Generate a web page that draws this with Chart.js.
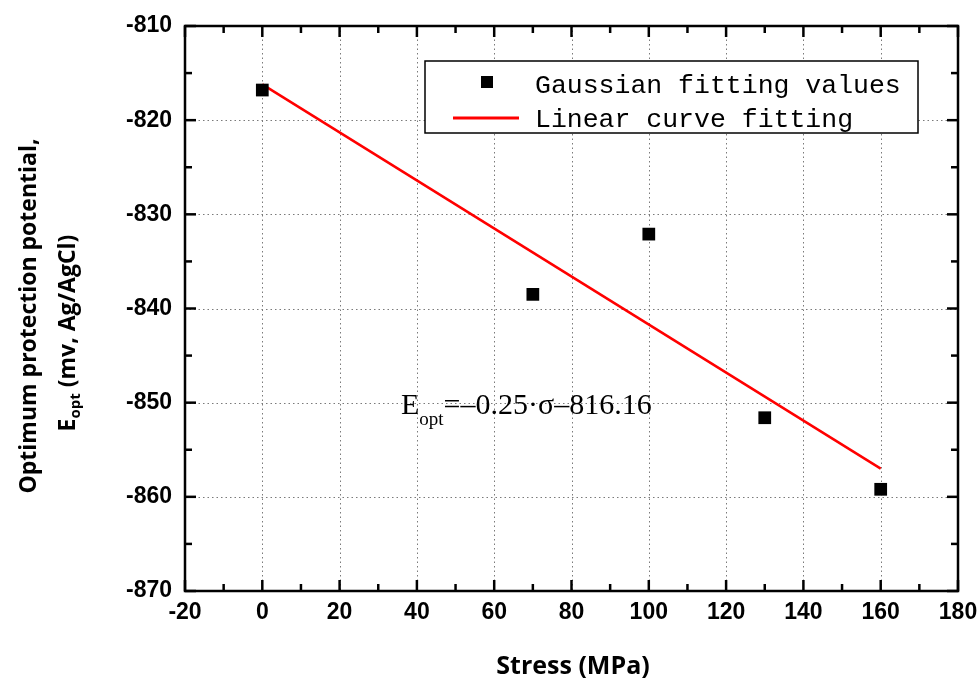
<!DOCTYPE html>
<html><head><meta charset="utf-8">
<script src="https://cdn.jsdelivr.net/npm/chart.js@4/dist/chart.umd.min.js"></script>
<style>html,body{margin:0;padding:0;background:#fff}#wrap{width:980px;height:680px}</style>
</head><body><div id="wrap"><canvas id="c" width="980" height="680"></canvas></div>
<script>
const stress = [0, 70, 100, 130, 160];
const gaussianValues = [-816.8, -838.5, -832.1, -851.6, -859.2];
const fitStress = [0, 160];
const fitValues = [-816.2, -857.0];
const xTicks = [-20, 0, 20, 40, 60, 80, 100, 120, 140, 160, 180];
const yTicks = [-810, -820, -830, -840, -850, -860, -870];
const seriesLabels = ['Gaussian fitting values', 'Linear curve fitting'];
const xTitle = 'Stress (MPa)';
const yTitleLine1 = 'Optimum protection potential,';
const yTitleLine2Main = 'E';
const yTitleLine2Sub = 'opt';
const yTitleLine2Rest = ' (mv, Ag/AgCl)';
const eqMain = 'E';
const eqSub = 'opt';
const eqRest = '=\u20130.25\u00b7\u03c3\u2013816.16';

const overlay = {
  id: 'overlay',
  beforeDatasetsDraw(chart) {
    const {ctx, chartArea: a, scales: {x, y}} = chart;
    ctx.save();
    ctx.strokeStyle = '#7a7a7a';
    ctx.lineWidth = 1;
    ctx.setLineDash([1.5, 3]);
    xTicks.slice(1, -1).forEach(v => {
      const px = Math.round(x.getPixelForValue(v)) + 0.5;
      ctx.beginPath(); ctx.moveTo(px, a.top); ctx.lineTo(px, a.bottom); ctx.stroke();
    });
    yTicks.slice(1, -1).forEach(v => {
      const py = Math.round(y.getPixelForValue(v)) + 0.5;
      ctx.beginPath(); ctx.moveTo(a.left, py); ctx.lineTo(a.right, py); ctx.stroke();
    });
    ctx.restore();
  },
  afterDatasetsDraw(chart) {
    const {ctx, chartArea: a, scales: {x, y}} = chart;
    ctx.save();
    ctx.setLineDash([]);
    ctx.strokeStyle = '#000';
    ctx.lineWidth = 2.5;
    ctx.strokeRect(a.left, a.top, a.right - a.left, a.bottom - a.top);
    // ticks inward
    const xmin = xTicks[0], xmax = xTicks[xTicks.length - 1];
    for (let v = xmin; v <= xmax; v += 10) {
      const major = (v % 20 === 0);
      const len = major ? 11 : 7;
      const px = x.getPixelForValue(v);
      ctx.beginPath(); ctx.moveTo(px, a.bottom); ctx.lineTo(px, a.bottom - len); ctx.stroke();
      ctx.beginPath(); ctx.moveTo(px, a.top); ctx.lineTo(px, a.top + len); ctx.stroke();
    }
    const ymin = yTicks[yTicks.length - 1], ymax = yTicks[0];
    for (let v = ymin; v <= ymax; v += 5) {
      const major = (v % 10 === 0);
      const len = major ? 11 : 7;
      const py = y.getPixelForValue(v);
      ctx.beginPath(); ctx.moveTo(a.left, py); ctx.lineTo(a.left + len, py); ctx.stroke();
      ctx.beginPath(); ctx.moveTo(a.right, py); ctx.lineTo(a.right - len, py); ctx.stroke();
    }
    // legend
    const lx = 425, ly = 61, lw = 493, lh = 72;
    ctx.fillStyle = '#fff';
    ctx.fillRect(lx, ly, lw, lh);
    ctx.lineWidth = 1.5;
    ctx.strokeStyle = '#000';
    ctx.strokeRect(lx, ly, lw, lh);
    ctx.fillStyle = '#000';
    ctx.fillRect(487 - 6, 82 - 6, 12, 12);
    ctx.strokeStyle = '#ff0000';
    ctx.lineWidth = 3;
    ctx.beginPath(); ctx.moveTo(453, 118); ctx.lineTo(519, 118); ctx.stroke();
    ctx.fillStyle = '#000';
    ctx.font = '26.5px "Liberation Mono"';
    ctx.textAlign = 'left';
    ctx.textBaseline = 'alphabetic';
    ctx.fillText(seriesLabels[0], 535, 93);
    ctx.fillText(seriesLabels[1], 535, 127);
    // equation annotation
    ctx.font = '30px "Liberation Serif"';
    let ex = 401;
    ctx.fillText(eqMain, ex, 414);
    ex += ctx.measureText(eqMain).width;
    ctx.font = '19px "Liberation Serif"';
    ctx.fillText(eqSub, ex, 425);
    ex += ctx.measureText(eqSub).width;
    ctx.font = '30px "Liberation Serif"';
    ctx.fillText(eqRest, ex, 414);
    // x title
    ctx.font = 'bold 25px "Open Sans"';
    ctx.textAlign = 'center';
    ctx.fillText(xTitle, 573, 674);
    // y title
    ctx.save();
    ctx.rotate(-Math.PI / 2);
    ctx.font = 'bold 23px "Open Sans"';
    ctx.textAlign = 'center';
    ctx.fillText(yTitleLine1, -316, 36);
    ctx.textAlign = 'left';
    const wMain = ctx.measureText(yTitleLine2Main).width;
    const wRest = ctx.measureText(yTitleLine2Rest).width;
    ctx.font = 'bold 15px "Open Sans"';
    const wSub = ctx.measureText(yTitleLine2Sub).width;
    let sx = -333 - (wMain + wSub + wRest) / 2;
    ctx.font = 'bold 23px "Open Sans"';
    ctx.fillText(yTitleLine2Main, sx, 75);
    sx += wMain;
    ctx.font = 'bold 15px "Open Sans"';
    ctx.fillText(yTitleLine2Sub, sx, 80);
    sx += wSub;
    ctx.font = 'bold 23px "Open Sans"';
    ctx.fillText(yTitleLine2Rest, sx, 75);
    ctx.restore();
    ctx.restore();
  }
};

new Chart(document.getElementById('c'), {
  type: 'scatter',
  data: {
    datasets: [
      {
        label: seriesLabels[0],
        data: stress.map((s, i) => ({x: s, y: gaussianValues[i]})),
        pointStyle: 'rect',
        pointRadius: 9,
        backgroundColor: '#000',
        borderWidth: 0,
        order: 1
      },
      {
        label: seriesLabels[1],
        data: fitStress.map((s, i) => ({x: s, y: fitValues[i]})),
        showLine: true,
        borderColor: '#ff0000',
        borderWidth: 2.5,
        pointRadius: 0,
        order: 2
      }
    ]
  },
  options: {
    responsive: false,
    animation: false,
    devicePixelRatio: 1,
    layout: {padding: {top: 26, right: 22, left: 0, bottom: 0}},
    plugins: {legend: {display: false}, tooltip: {enabled: false}},
    scales: {
      x: {
        type: 'linear', min: -20, max: 180,
        afterBuildTicks: s => { s.ticks = xTicks.map(v => ({value: v})); },
        ticks: {color: '#000', font: {family: '"Liberation Sans"', weight: 'bold', size: 23}, padding: 8, maxRotation: 0},
        grid: {display: false, drawTicks: false},
        border: {display: false},
        afterFit: s => { s.height = 89; s.paddingLeft = 0; s.paddingRight = 0; }
      },
      y: {
        type: 'linear', min: -870, max: -810,
        afterBuildTicks: s => { s.ticks = yTicks.map(v => ({value: v})); },
        ticks: {color: '#000', font: {family: '"Liberation Sans"', weight: 'bold', size: 23}, padding: 13},
        grid: {display: false, drawTicks: false},
        border: {display: false},
        afterFit: s => { s.width = 185; s.paddingTop = 0; s.paddingBottom = 0; }
      }
    }
  },
  plugins: [overlay]
});
</script>
</body></html>
